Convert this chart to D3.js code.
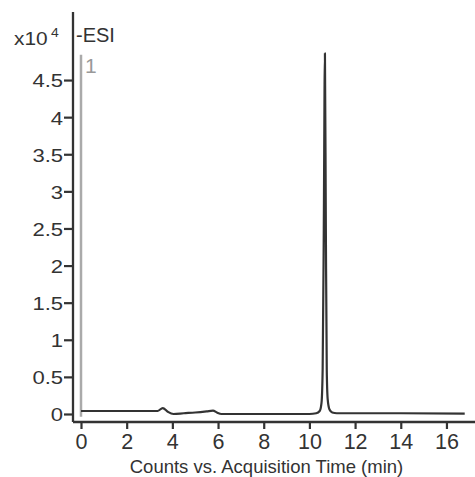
<!DOCTYPE html>
<html>
<head>
<meta charset="utf-8">
<script src="https://cdn.jsdelivr.net/npm/d3@7"></script>
<style>
  html, body { margin: 0; padding: 0; background: #fff; }
  svg { display: block; }
  text { font-family: "Liberation Sans", Arial, Helvetica, sans-serif; fill: #333; }
</style>
</head>
<body>
<svg id="chart" width="475" height="477"></svg>
<script>
// ---- data (intensity in units of x10^4 counts) ----
const times = [0, 3.35, 3.58, 3.8, 4.05, 4.5, 5.0, 5.5, 5.78, 5.95, 6.15, 8.0, 10.0, 10.3, 10.45, 10.53, 10.58, 10.63, 10.68, 10.72, 10.76, 10.8, 10.88, 11.0, 11.2, 12.0, 14.0, 16.8];
const counts = [0.04, 0.04, 0.08, 0.03, 0.0, 0.01, 0.02, 0.035, 0.045, 0.02, 0.0, 0.0, 0.0, 0.01, 0.04, 0.15, 0.6, 2.5, 4.86, 2.5, 0.6, 0.2, 0.06, 0.02, 0.01, 0.01, 0.01, 0.005];
const xTicks = [0, 2, 4, 6, 8, 10, 12, 14, 16];
const yTicks = [0, 0.5, 1, 1.5, 2, 2.5, 3, 3.5, 4, 4.5];
const yTickLabels = ["0", "0.5", "1", "1.5", "2", "2.5", "3", "3.5", "4", "4.5"];
const markerTimes = [0];
const markerRange = [-0.036, 4.84];
const markerLabels = ["1"];
const xTitle = "Counts vs. Acquisition Time (min)";
const ionMode = "-ESI";

// ---- layout ----
const W = 475, H = 477;
const mLeft = 73, mRight = 475, mTop = 12, mBottom = 422;
const SX = 1.16; // horizontal text stretch on left-side labels
const svg = d3.select("#chart");

const x = d3.scaleLinear().domain([-0.35, 17.25]).range([mLeft, mRight]);
const y = d3.scaleLinear().domain([-0.108, 5.417]).range([mBottom, mTop]);

// marker
svg.selectAll("line.marker").data(markerTimes).enter().append("line")
  .attr("class", "marker")
  .attr("x1", d => x(d)).attr("x2", d => x(d))
  .attr("y1", y(markerRange[0])).attr("y2", y(markerRange[1]))
  .attr("stroke", "#aaa").attr("stroke-width", 2.5);
svg.selectAll("text.markerLabel").data(markerTimes).enter().append("text")
  .attr("class", "markerLabel")
  .attr("x", d => x(d) + 4).attr("y", y(markerRange[1]) + 18)
  .style("font-size", "21px").style("fill", "#999")
  .text((d, i) => markerLabels[i]);

// trace
const line = d3.line().x((d, i) => x(times[i])).y((d, i) => y(counts[i])).curve(d3.curveMonotoneX);
svg.append("path").datum(counts)
  .attr("d", line)
  .attr("fill", "none").attr("stroke", "#333").attr("stroke-width", 2.2)
  .attr("stroke-linejoin", "round");

// axes
const xAxis = d3.axisBottom(x).tickValues(xTicks).tickSize(7).tickSizeOuter(0);
const gx = svg.append("g").attr("transform", `translate(0,${mBottom})`).call(xAxis);
const yAxis = d3.axisLeft(y).tickValues(yTicks).tickFormat((d, i) => yTickLabels[i]).tickSize(9).tickSizeOuter(0);
const gy = svg.append("g").attr("transform", `translate(${mLeft},0)`).call(yAxis);

[gx, gy].forEach(g => {
  g.select(".domain").attr("stroke", "#333").attr("stroke-width", 2.3);
  g.selectAll(".tick line").attr("stroke", "#333").attr("stroke-width", 2.2);
  g.selectAll(".tick text").style("fill", "#333")
    .style("font-family", '"Liberation Sans", Arial, sans-serif');
});
gx.select(".domain").attr("d", `M${mLeft},0H${mRight}`);
gy.select(".domain").attr("d", `M0,${mBottom}V${mTop}`);
gx.selectAll(".tick text").style("font-size", "21.5px").attr("y", 27).attr("dy", "0");
gy.selectAll(".tick text").style("font-size", "19px")
  .attr("x", -10 / SX).attr("dy", "0.36em").attr("transform", `scale(${SX},1)`);

// multiplier label
const mult = svg.append("text").attr("transform", `translate(14,45) scale(${SX},1)`).style("font-size", "18px");
mult.append("tspan").text("x10");
mult.append("tspan").attr("dx", 3).attr("dy", -8).style("font-size", "12px").text("4");

svg.append("text").attr("x", 76).attr("y", 42).style("font-size", "20px").text(ionMode);

svg.append("text").attr("x", 266.5).attr("y", 473)
  .attr("text-anchor", "middle").style("font-size", "18.5px").text(xTitle);
</script>
</body>
</html>
